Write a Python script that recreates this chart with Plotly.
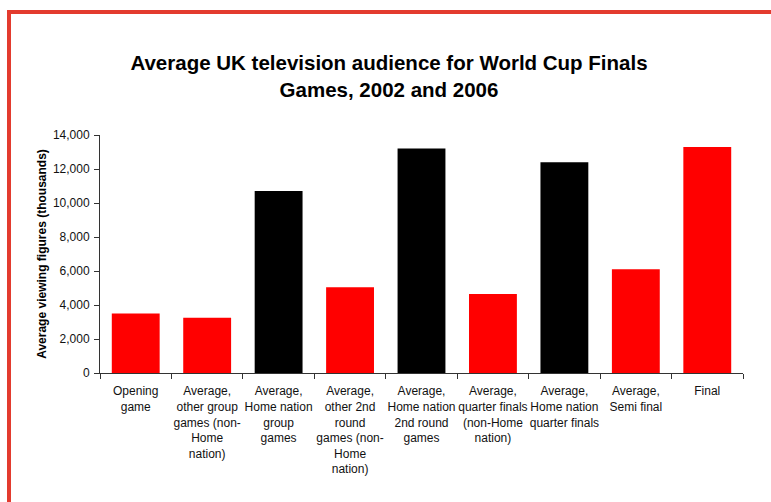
import plotly.graph_objects as go

# Average UK TV audience (thousands) by type of World Cup Finals game
categories = [
    "Opening<br>game",
    "Average,<br>other group<br>games (non-<br>Home<br>nation)",
    "Average,<br>Home nation<br>group<br>games",
    "Average,<br>other 2nd<br>round<br>games (non-<br>Home<br>nation)",
    "Average,<br>Home nation<br>2nd round<br>games",
    "Average,<br>quarter finals<br>(non-Home<br>nation)",
    "Average,<br>Home nation<br>quarter finals",
    "Average,<br>Semi final",
    "Final",
]
viewers = [3500, 3250, 10700, 5050, 13200, 4650, 12400, 6100, 13300]
home_nation = [False, False, True, False, True, False, True, False, False]

y_ticks = [0, 2000, 4000, 6000, 8000, 10000, 12000, 14000]

bar_colors = ["#000000" if h else "#ff0000" for h in home_nation]

FONT = "Arial, 'Liberation Sans', sans-serif"
W, H = 771, 502
ML, MR, MT, MB = 100, 28, 135, 129

fig = go.Figure(
    go.Bar(
        x=categories,
        y=viewers,
        marker=dict(color=bar_colors, line=dict(width=0)),
        hovertemplate="%{y:,}<extra></extra>",
    )
)

# red frame along the top and left edges of the page
pw = W - ML - MR
ph = H - MT - MB
def px_x(p):
    return (p - ML) / pw
def px_y(p):
    return 1 - (p - MT) / ph

frame = dict(color="#e33b2e", width=4)
fig.add_shape(type="line", xref="paper", yref="paper",
              x0=px_x(7), x1=px_x(W + 5), y0=px_y(12), y1=px_y(12), line=frame)
fig.add_shape(type="line", xref="paper", yref="paper",
              x0=px_x(9), x1=px_x(9), y0=px_y(10), y1=px_y(H + 5), line=frame)

fig.update_layout(
    width=W,
    height=H,
    margin=dict(l=ML, r=MR, t=MT, b=MB),
    paper_bgcolor="white",
    plot_bgcolor="white",
    bargap=0.33,
    showlegend=False,
    font=dict(family=FONT, size=12, color="#000"),
    title=dict(
        text="<b>Average UK television audience for World Cup Finals<br>Games, 2002 and 2006</b>",
        font=dict(family=FONT, size=20.5, color="#000"),
        x=389 / W,
        xanchor="center",
        xref="container",
        yref="container",
        y=1 - 70 / H,
        yanchor="middle",
    ),
    xaxis=dict(
        showline=True,
        linecolor="#333",
        linewidth=1,
        ticks="outside",
        tickson="boundaries",
        ticklen=5,
        tickcolor="#333",
        tickfont=dict(family=FONT, size=12, color="#111"),
        tickangle=0,
        ticklabelstandoff=7,
        showgrid=False,
    ),
    yaxis=dict(
        range=[0, 14000],
        tickvals=y_ticks,
        tickformat=",",
        showline=True,
        linecolor="#333",
        linewidth=1,
        ticks="outside",
        ticklen=5,
        tickcolor="#333",
        tickfont=dict(family=FONT, size=12, color="#111"),
        ticklabelstandoff=2,
        showgrid=False,
        zeroline=False,
        title=dict(
            text="<b>Average viewing figures (thousands)</b>",
            font=dict(family=FONT, size=12, color="#000"),
            standoff=3,
        ),
    ),
)

fig.write_html("out.html")
